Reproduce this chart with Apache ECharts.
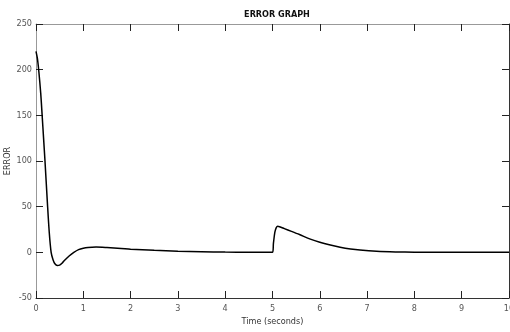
<!DOCTYPE html>
<html><head><meta charset="utf-8">
<script src="https://cdn.jsdelivr.net/npm/echarts@6/dist/echarts.min.js"></script>
<style>html,body{margin:0;padding:0;background:#fff}#c{width:510px;height:332px}</style>
</head><body><div id="c"></div>
<script>
const times = [0,0.03,0.06,0.1,0.13,0.16,0.19,0.24,0.28,0.32,0.36,0.4,0.45,0.5,0.55,0.6,0.7,0.8,0.9,1.0,1.1,1.27,1.5,1.8,2.0,2.5,3.0,3.5,4.0,4.5,5.0,5.02,5.05,5.08,5.11,5.15,5.25,5.4,5.57,5.8,6.0,6.2,6.43,6.65,6.85,7.2,7.6,8.0,9.0,10];
const errorValues = [220,212,198,174,150,125,100,55,22,0,-8,-12.5,-14.3,-14,-12,-9,-4,0,3,4.5,5.3,5.8,5.3,4.3,3.5,2.3,1.3,0.7,0.3,0.1,0,10,22,27,28.5,28,26,23,19.5,14.5,11,8.2,5.6,3.7,2.5,1.2,0.5,0.2,0,0];
const xTicks = {min:0,max:10,interval:1};
const yTicks = {min:-50,max:250,interval:50};
const title = 'ERROR GRAPH', xName = 'Time (seconds)', yName = 'ERROR';

const font = '"DejaVu Sans Condensed","Liberation Sans Narrow",sans-serif';
const chart = echarts.init(document.getElementById('c'));
const axBase = {
  type:'value',
  axisLine:{show:true,onZero:false,lineStyle:{color:'#333',width:1}},
  axisTick:{show:true,inside:true,length:7,lineStyle:{color:'#222'}},
  splitLine:{show:false},
  axisLabel:{color:'#555',fontSize:9,fontFamily:font}
};
chart.setOption({
  animation:false,
  title:{text:title,left:272,top:5,textAlign:'center',textStyle:{fontSize:9,fontWeight:'bold',fontFamily:font,color:'#111'}},
  grid:{left:36,right:1,top:24,bottom:34,containLabel:false,outerBoundsMode:'none'},
  xAxis:[
    Object.assign({},axBase,{position:'bottom',min:xTicks.min,max:xTicks.max,interval:xTicks.interval,
      name:xName,nameLocation:'middle',nameGap:19,nameMoveOverlap:false,nameTextStyle:{fontSize:9,fontFamily:font,color:'#333'},
      axisLabel:Object.assign({},axBase.axisLabel,{margin:6})}),
    Object.assign({},axBase,{position:'top',min:xTicks.min,max:xTicks.max,interval:xTicks.interval,
      axisLine:{show:true,onZero:false,lineStyle:{color:'#999',width:1}},axisLabel:{show:false}})
  ],
  yAxis:[
    Object.assign({},axBase,{position:'left',min:yTicks.min,max:yTicks.max,interval:yTicks.interval,
      axisLine:{show:true,onZero:false,lineStyle:{color:'#999',width:1}},
      name:yName,nameLocation:'middle',nameGap:24,nameMoveOverlap:false,nameRotate:90,nameTextStyle:{fontSize:9,fontFamily:font,color:'#333'},
      axisLabel:Object.assign({},axBase.axisLabel,{margin:4})}),
    Object.assign({},axBase,{position:'right',min:yTicks.min,max:yTicks.max,interval:yTicks.interval,axisLabel:{show:false}})
  ],
  series:[{
    type:'line',xAxisIndex:0,yAxisIndex:0,showSymbol:false,smooth:0.3,
    data:times.map((t,i)=>[t,errorValues[i]]),
    lineStyle:{color:'#000',width:1.5}
  }]
});
</script></body></html>
